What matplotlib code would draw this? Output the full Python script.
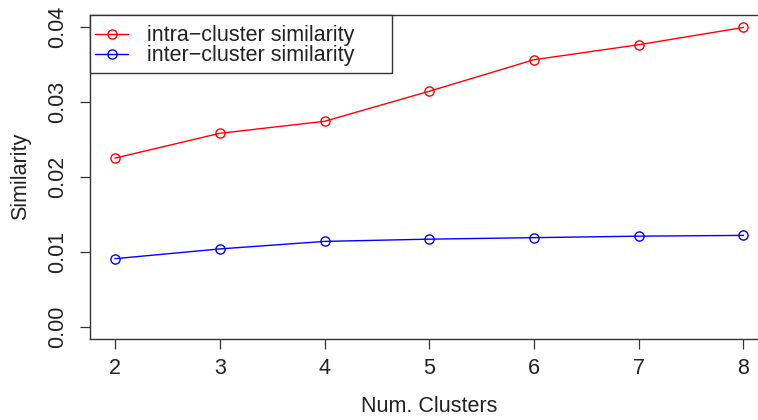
import matplotlib
matplotlib.use("Agg")
import matplotlib.pyplot as plt
from matplotlib.patches import Rectangle
from matplotlib.lines import Line2D
from matplotlib.transforms import IdentityTransform

plt.rcParams['font.family'] = ['Liberation Sans', 'DejaVu Sans']

clusters = [2, 3, 4, 5, 6, 7, 8]
intra = [0.0225, 0.0258, 0.0274, 0.0314, 0.0356, 0.0376, 0.0399]
inter = [0.0091, 0.0104, 0.0114, 0.0117, 0.0119, 0.0121, 0.0122]
labels = ["intra\u2212cluster similarity", "inter\u2212cluster similarity"]
yticks = [0.00, 0.01, 0.02, 0.03, 0.04]
ytick_labels = ["0.00", "0.01", "0.02", "0.03", "0.04"]

W, H = 758, 420
fig = plt.figure(figsize=(W / 100, H / 100), dpi=100)
L, R, T, B = 90, 768.5, 14.7, 339
ax = fig.add_axes([L / W, (H - B) / H, (R - L) / W, (B - T) / H])

fs = 15.5
red = "#FF0000"
blue = "#0000FF"
ms = 6.6
ax.plot(clusters, intra, color=red, lw=1.0, marker='o', ms=ms,
        mfc='none', mec=red, mew=1.0, clip_on=False)
ax.plot(clusters, inter, color=blue, lw=1.0, marker='o', ms=ms,
        mfc='none', mec=blue, mew=1.0, clip_on=False)

ax.set_xlim(1.76, 8.24)
ax.set_ylim(-0.0016, 0.0416)
ax.set_xticks(clusters)
ax.set_xticklabels([str(c) for c in clusters], fontsize=fs, color="#222222")
ax.set_yticks(yticks)
ax.set_yticklabels(ytick_labels, fontsize=fs, rotation=90, va='center',
                   color="#222222")
ax.tick_params(axis='both', length=7.5, width=0.9, color="#333333")
ax.tick_params(axis='x', pad=6.5)
ax.tick_params(axis='y', pad=8)
for s in ax.spines.values():
    s.set_color("#333333")
    s.set_linewidth(1.0)
ax.spines['right'].set_visible(False)

fig.text(429.5 / W, 1 - 407 / H, "Num. Clusters", fontsize=fs, ha='center',
         va='center', color="#222222")
fig.text(21 / W, 1 - 176.5 / H, "Similarity", fontsize=fs, ha='center',
         va='center', rotation=90, color="#222222")

# legend (top-left, R style)
idt = IdentityTransform()
lx0, lx1, ly0, ly1 = 90, 392, 14.5, 73
fig.patches.append(Rectangle((lx0, H - ly1), lx1 - lx0, ly1 - ly0,
                             transform=idt, facecolor='white',
                             edgecolor="#333333", lw=1.0, zorder=5))
for i, (lab, col) in enumerate(zip(labels, [red, blue])):
    yy = H - (33.5 + 20 * i)
    fig.lines.append(Line2D([95, 128], [yy, yy], color=col, lw=1.0,
                            transform=idt, zorder=6))
    fig.lines.append(Line2D([111.5], [yy], color=col, marker='o', ms=ms,
                            mfc='none', mec=col, mew=1.0, transform=idt,
                            zorder=6))
    fig.text(147 / W, yy / H, lab, fontsize=fs, ha='left', va='center_baseline',
             color="#222222", zorder=7)

fig.savefig("out.png", dpi=100)
